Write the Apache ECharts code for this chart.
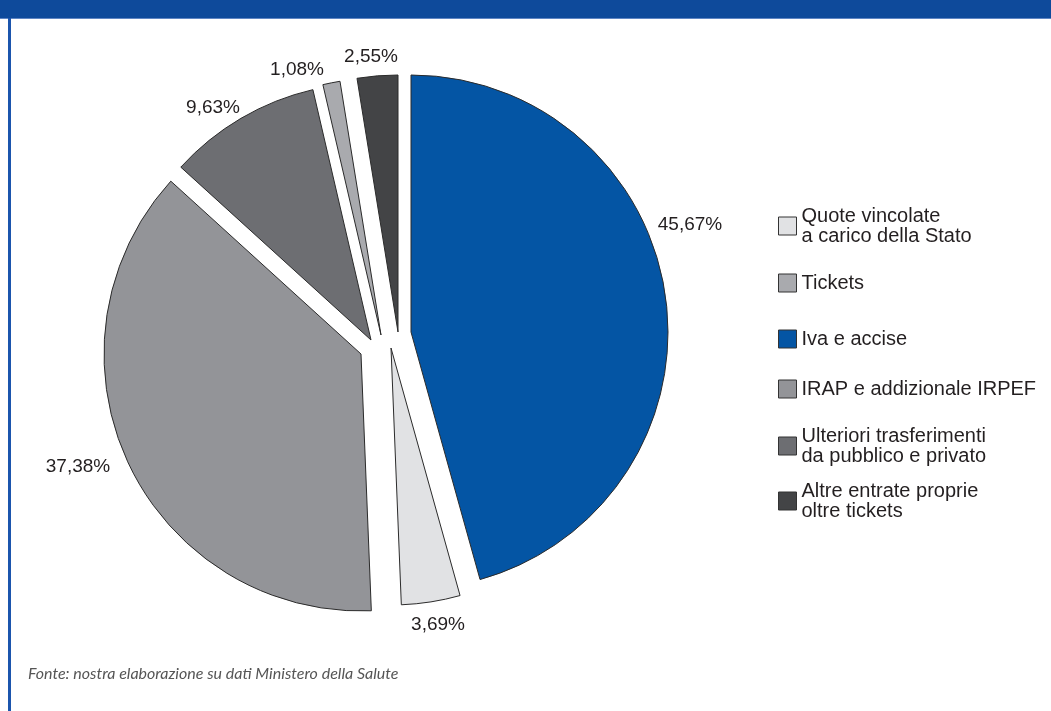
<!DOCTYPE html>
<html>
<head>
<meta charset="utf-8">
<title>Composizione delle entrate</title>
<script src="https://cdn.jsdelivr.net/npm/echarts@6/dist/echarts.min.js"></script>
<style>
  html, body { margin: 0; padding: 0; background: #ffffff; }
  #chart { width: 1051px; height: 711px; }
</style>
</head>
<body>
<div id="chart"></div>
<script>
// Slices, clockwise from 12 o'clock
const categories = [
  'Iva e accise',
  'Quote vincolate\na carico della Stato',
  'IRAP e addizionale IRPEF',
  'Ulteriori trasferimenti\nda pubblico e privato',
  'Tickets',
  'Altre entrate proprie\noltre tickets'
];
const shares = [45.67, 3.69, 37.38, 9.63, 1.08, 2.55];

// Order of the entries in the key on the right
const legendOrder = [1, 4, 0, 2, 3, 5];

// Styling and layout
const sliceColors = ['#0455a4', '#e1e2e4', '#939498', '#6d6e72', '#a9aaae', '#434446'];
const sliceCenters = [[411, 332], [391, 348], [361, 354], [371, 340], [381, 335], [398, 332]];
const labelAnchors = [[690, 225], [438, 625], [78, 467], [213, 108], [297, 70], [371, 57]];
const legendTops = [206, 273, 329, 379, 426, 481];
const PIE_RADIUS = 257;
const FONT = '"Liberation Sans", Arial, sans-serif';

const formatShare = v => v.toFixed(2).replace('.', ',') + '%';

// One pie per exploded slice: each pie lays out all the shares, shows only its own one
const series = categories.map((_, i) => ({
  type: 'pie',
  center: sliceCenters[i],
  radius: PIE_RADIUS,
  startAngle: 90,
  clockwise: true,
  silent: true,
  avoidLabelOverlap: false,
  emphasis: { disabled: true },
  data: categories.map((name, j) => ({
    name: name,
    value: shares[j],
    itemStyle: j === i
      ? { color: sliceColors[j], borderColor: '#2b2b2b', borderWidth: 1 }
      : { color: 'rgba(0,0,0,0)', borderWidth: 0 },
    label: { show: j === i }
  })),
  label: {
    position: 'outside',
    formatter: p => formatShare(p.value),
    fontFamily: FONT,
    fontSize: 19,
    color: '#231f20'
  },
  labelLine: { show: false },
  labelLayout: p => p.dataIndex === i
    ? { x: labelAnchors[i][0], y: labelAnchors[i][1], align: 'center', verticalAlign: 'middle' }
    : {}
}));

const legend = legendOrder.map((idx, k) => ({
  left: 778,
  top: legendTops[k],
  padding: 0,
  orient: 'vertical',
  icon: 'rect',
  itemWidth: 18,
  itemHeight: 18,
  selectedMode: false,
  textStyle: { fontFamily: FONT, fontSize: 20, lineHeight: 20, color: '#231f20' },
  data: [{
    name: categories[idx],
    itemStyle: { color: sliceColors[idx], borderColor: '#333333', borderWidth: 1 }
  }]
}));

const chart = echarts.init(document.getElementById('chart'), null, { renderer: 'canvas' });
chart.setOption({
  animation: false,
  backgroundColor: '#ffffff',
  legend: legend,
  series: series,
  graphic: [
    { type: 'rect', left: 0, top: 0, shape: { width: 1051, height: 18 }, style: { fill: '#0e4a9b' }, silent: true },
    { type: 'rect', left: 0, top: 18, shape: { width: 1051, height: 1 }, style: { fill: '#5f86c4' }, silent: true },
    { type: 'rect', left: 8, top: 18, shape: { width: 3, height: 693 }, style: { fill: '#1b55ad' }, silent: true },
    {
      type: 'text', left: 28, top: 666, silent: true,
      style: {
        text: 'Fonte: nostra elaborazione su dati Ministero della Salute',
        font: 'italic 16px Lato, "Open Sans", sans-serif',
        fill: '#555555'
      }
    }
  ]
});
</script>
</body>
</html>
